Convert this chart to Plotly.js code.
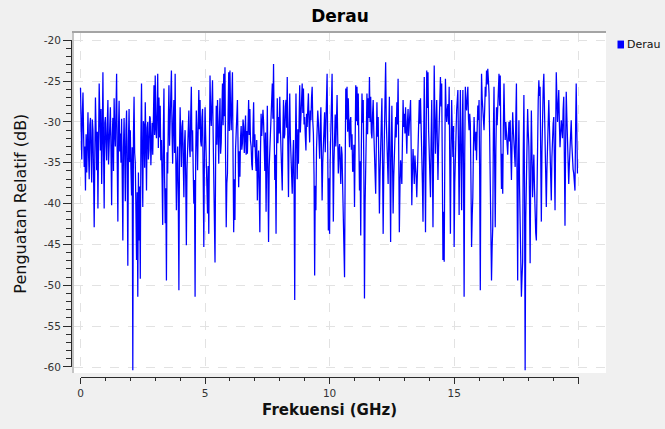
<!DOCTYPE html>
<html>
<head>
<meta charset="utf-8">
<script src="https://cdn.plot.ly/plotly-3.0.1.min.js"></script>
<style>
  html, body { margin: 0; padding: 0; background: #f0f0f0; }
  #chart { width: 665px; height: 429px; }
</style>
</head>
<body>
<div id="chart"></div>
<script>
// ---- data ----
const chartTitle = 'Derau';
const seriesName = 'Derau';
const xTitle = 'Frekuensi (GHz)';
const yTitle = 'Penguatan Relatif (dB)';
const freqStart = 0;       // GHz, first sample
const freqStep = 0.025;    // GHz between samples
const gainDb = [
  -25.8, -30.2, -34.6, -28.9, -26.4, -31.7, -35.5, -33.0, -38.4, -31.5, -36.2, -32.8, -28.8, -34.1, -37.0, -30.4, -29.5, -33.9, -37.4, -29.7, -31.0, -36.5, -42.9, -34.2, -27.0, -30.8, -35.9, -31.2, -40.6, -32.7, -25.3, -29.1, -33.5, -28.4, -37.6, -31.9, -23.9, -33.4, -40.6, -30.1,
  -29.4, -32.6, -34.7, -30.3, -27.3, -35.2, -32.0, -29.0, -28.2, -33.7, -40.2, -31.8, -29.5, -36.0, -27.1, -31.3, -33.0, -28.7, -24.1, -34.8, -42.2, -30.9, -27.4, -33.6, -31.4, -35.0, -29.6, -36.8, -44.5, -33.2, -29.5, -34.1, -39.7, -31.0, -28.6, -35.7, -47.6, -32.4, -28.4, -34.9,
  -31.0, -35.8, -39.0, -33.1, -60.4, -31.7, -26.9, -33.8, -35.0, -40.9, -46.9, -38.6, -51.4, -36.2, -44.5, -37.9, -49.2, -32.0, -25.3, -34.4, -40.4, -29.9, -30.5, -35.6, -27.6, -32.3, -38.4, -30.7, -30.0, -34.6, -33.5, -29.3, -29.5, -35.3, -32.5, -30.1, -34.0, -28.9, -25.5, -31.6,
  -24.3, -30.8, -32.0, -28.5, -24.1, -33.2, -27.0, -31.9, -28.0, -34.7, -32.2, -36.9, -42.6, -31.4, -25.9, -36.6, -42.4, -38.1, -49.4, -33.7, -36.3, -30.2, -25.5, -32.9, -30.5, -27.8, -23.7, -31.3, -35.1, -29.6, -27.3, -33.8, -24.1, -34.4, -40.8, -35.3, -33.0, -38.9, -50.6, -33.4,
  -28.2, -32.1, -35.5, -30.6, -29.8, -34.9, -39.2, -32.7, -31.0, -37.3, -45.1, -35.8, -34.0, -30.3, -28.6, -33.0, -34.3, -29.2, -25.7, -33.6, -31.0, -35.9, -40.0, -37.1, -51.4, -34.2, -28.6, -31.8, -35.9, -30.5, -26.1, -30.9, -27.3, -32.4, -33.0, -29.5, -28.4, -36.4, -45.3, -34.0,
  -28.2, -31.6, -36.0, -38.7, -41.2, -35.4, -43.7, -33.0, -24.3, -29.1, -30.5, -27.6, -24.9, -31.5, -35.9, -40.3, -47.2, -34.6, -28.0, -32.8, -27.3, -31.0, -35.1, -30.0, -27.1, -33.9, -32.5, -28.8, -25.3, -30.4, -24.1, -29.3, -23.3, -34.5, -42.9, -37.5, -36.3, -29.0, -23.9, -31.1,
  -23.7, -28.6, -31.0, -27.2, -23.9, -34.8, -43.5, -37.0, -42.0, -33.3, -30.0, -28.7, -27.3, -32.9, -38.0, -33.6, -36.7, -31.9, -30.5, -33.4, -32.6, -29.7, -30.6, -33.8, -31.8, -29.2, -34.0, -31.1, -33.9, -30.0, -27.3, -31.6, -28.4, -32.3, -33.0, -35.2, -35.9, -30.8, -27.6, -33.1,
  -31.5, -34.3, -36.0, -32.2, -39.6, -35.1, -33.5, -38.3, -43.5, -33.8, -29.0, -31.7, -30.6, -28.5, -30.0, -33.6, -36.0, -31.3, -41.0, -34.5, -28.0, -36.8, -44.7, -35.5, -32.9, -30.1, -29.0, -27.7, -25.3, -29.6, -22.9, -31.2, -37.1, -34.0, -43.7, -32.4, -27.1, -32.6, -29.4, -31.4,
  -26.9, -30.9, -33.0, -35.7, -38.4, -31.1, -27.3, -32.0, -31.5, -28.1, -27.3, -30.7, -24.5, -33.5, -39.2, -30.4, -26.5, -31.9, -34.0, -36.2, -38.8, -34.4, -32.2, -38.5, -51.8, -33.9, -26.5, -32.6, -37.0, -30.9, -35.1, -29.8, -25.5, -31.3, -29.8, -27.5, -25.3, -28.9, -25.9, -30.3,
  -29.4, -31.7, -33.5, -29.0, -30.6, -28.3, -26.5, -30.2, -32.5, -28.6, -29.8, -27.0, -25.7, -29.9, -31.4, -36.4, -48.8, -37.8, -40.8, -33.2, -31.0, -28.6, -30.0, -32.9, -34.5, -30.8, -28.2, -34.1, -39.6, -35.0, -33.5, -30.4, -28.8, -33.7, -31.0, -27.6, -24.1, -33.5, -43.3, -36.9,
  -43.7, -34.6, -31.0, -28.0, -24.1, -33.1, -42.2, -34.9, -31.6, -29.1, -33.0, -30.3, -26.7, -31.8, -36.3, -33.4, -32.7, -35.3, -37.6, -33.0, -34.0, -37.9, -40.8, -44.6, -49.0, -35.6, -25.9, -29.7, -25.7, -31.2, -27.1, -30.5, -33.1, -29.8, -29.4, -33.4, -31.5, -36.1, -35.9, -32.8,
  -40.4, -33.1, -25.5, -29.9, -25.7, -30.4, -26.5, -32.5, -38.4, -34.8, -43.9, -33.0, -26.5, -30.1, -27.3, -35.8, -51.6, -40.1, -35.9, -30.7, -26.5, -31.5, -27.1, -29.5, -24.5, -30.0, -26.9, -31.3, -32.0, -29.1, -27.3, -31.2, -34.0, -36.5, -38.8, -32.9, -27.6, -31.8, -29.4, -35.0,
  -41.2, -36.3, -32.0, -29.6, -27.1, -34.9, -43.7, -36.1, -30.0, -27.3, -22.7, -29.7, -32.2, -34.7, -37.6, -31.4, -26.9, -35.8, -44.7, -33.7, -28.0, -34.3, -41.2, -36.7, -33.0, -30.6, -29.4, -31.9, -27.6, -30.3, -24.7, -33.6, -43.5, -38.0, -34.7, -35.9, -37.6, -32.1, -27.3, -30.6,
  -29.0, -31.4, -28.2, -31.1, -33.9, -30.0, -28.4, -31.7, -30.5, -28.8, -27.3, -33.3, -40.2, -36.0, -33.3, -35.4, -37.6, -34.1, -35.0, -36.8, -39.2, -35.7, -34.3, -31.0, -27.3, -30.2, -27.1, -30.6, -33.0, -37.5, -42.2, -33.2, -24.5, -34.0, -43.5, -32.1, -23.7, -28.3, -23.9, -31.0,
  -35.0, -36.9, -39.2, -32.4, -27.3, -34.6, -42.9, -33.5, -23.1, -29.4, -33.9, -30.1, -27.3, -32.5, -37.1, -33.2, -31.0, -27.8, -24.5, -28.1, -25.3, -35.6, -46.9, -41.0, -47.1, -34.3, -24.7, -28.3, -30.0, -28.5, -27.8, -30.3, -25.7, -35.1, -43.7, -33.6, -27.3, -31.2, -34.3, -30.5,
  -45.3, -37.4, -33.0, -30.2, -28.6, -27.3, -26.1, -33.5, -41.4, -32.0, -26.1, -34.2, -40.8, -31.3, -26.1, -35.8, -51.4, -33.9, -25.7, -27.9, -28.6, -27.0, -25.7, -29.6, -31.0, -29.0, -30.2, -37.4, -45.3, -41.5, -39.2, -33.1, -29.4, -31.8, -33.5, -31.2, -34.7, -30.8, -28.0, -29.8,
  -27.3, -36.8, -50.6, -33.0, -24.1, -27.1, -28.2, -30.0, -31.0, -28.5, -25.7, -26.9, -23.7, -25.4, -23.5, -24.8, -26.5, -31.6, -38.8, -44.0, -49.4, -45.3, -42.9, -31.4, -25.7, -34.7, -42.9, -33.5, -28.2, -30.4, -27.8, -26.0, -24.1, -28.0, -24.3, -32.6, -38.2, -33.9, -38.8, -30.6,
  -25.3, -29.6, -32.2, -30.0, -31.8, -33.6, -34.0, -31.7, -30.0, -32.4, -29.8, -33.8, -37.1, -32.5, -28.8, -30.9, -33.0, -34.9, -35.5, -29.7, -25.3, -37.0, -49.4, -35.1, -29.8, -37.8, -44.5, -48.3, -51.4, -49.0, -47.1, -33.6, -26.7, -38.0, -60.4, -41.8, -35.5, -31.5, -28.4, -31.2,
  -33.0, -39.5, -47.3, -35.4, -28.6, -33.8, -39.2, -36.3, -34.0, -38.1, -42.0, -43.6, -44.5, -35.1, -30.2, -27.4, -24.9, -26.8, -25.7, -34.2, -42.2, -33.6, -27.3, -25.8, -24.1, -27.6, -29.4, -35.2, -40.4, -35.8, -33.0, -30.1, -27.3, -30.5, -33.5, -36.7, -39.6, -34.3, -31.0, -30.2,
  -29.4, -34.9, -40.8, -31.2, -23.9, -27.2, -30.0, -28.1, -26.1, -30.3, -33.1, -31.4, -29.8, -30.9, -32.0, -28.5, -26.9, -34.5, -42.7, -33.0, -26.3, -29.4, -32.0, -34.8, -37.6, -35.2, -33.9, -31.6, -29.8, -32.7, -35.0, -35.8, -36.3, -37.4, -38.4, -30.9, -25.3, -31.0, -36.3
];
const xTickVals = [0, 5, 10, 15, 20];
const xTickText = ['0', '5', '10', '15', ''];
const yTickVals = [-20, -25, -30, -35, -40, -45, -50, -55, -60];
const yTickText = ['-20', '-25', '-30', '-35', '-40', '-45', '-50', '-55', '-60'];
const xAxisRange = [0, 20];
const yAxisRange = [-60, -20];

// ---- styling ----
const blue = '#0000ff';
const axisInk = '#2b2b2b';
const tickFont = { family: 'DejaVu Sans, sans-serif', size: 10.5, color: '#333333' };

const traces = [
  {
    type: 'scatter', mode: 'lines', name: seriesName,
    x0: freqStart, dx: freqStep, y: gainDb,
    xaxis: 'x', yaxis: 'y',
    line: { color: blue, width: 1.25 },
    showlegend: false, hoverinfo: 'skip'
  },
  { // same data on the labelled axes, invisible, so those axes get drawn
    type: 'scatter', mode: 'lines', name: seriesName,
    x0: freqStart, dx: freqStep, y: gainDb,
    xaxis: 'x2', yaxis: 'y2',
    line: { color: blue, width: 0 }, opacity: 0,
    showlegend: false, hoverinfo: 'skip'
  }
];

const gridStyle = { showgrid: true, gridcolor: '#e2e2e2', griddash: 'dash', gridwidth: 1 };

const layout = {
  width: 665, height: 429,
  margin: { l: 71, r: 59, t: 33, b: 52 },
  paper_bgcolor: '#f0f0f0',
  plot_bgcolor: 'rgba(0,0,0,0)',
  showlegend: false,
  title: {
    text: chartTitle, x: 0.5113, xanchor: 'center', y: 0.962, yanchor: 'middle',
    font: { family: 'DejaVu Sans, sans-serif', size: 17, color: '#000000', weight: 'bold' }
  },
  // plotting frame (grid, top/left border)
  xaxis: Object.assign({
    domain: [0.0056, 1], range: [-0.261, 21.096], tick0: 0, dtick: 5,
    showticklabels: false, ticks: '', zeroline: false,
    side: 'top', showline: true, linecolor: '#a4a4a4', linewidth: 2, anchor: 'y'
  }, gridStyle),
  yaxis: Object.assign({
    domain: [0.01163, 1], range: [-60.735, -19.106], tick0: -20, dtick: 5,
    showticklabels: false, ticks: '', zeroline: false,
    showline: true, linecolor: '#c4c4c4', linewidth: 2, anchor: 'x'
  }, gridStyle),
  // labelled axes, set apart from the frame
  xaxis2: {
    domain: [0.01776, 0.94897], range: xAxisRange, anchor: 'free', position: 0,
    tickmode: 'array', tickvals: xTickVals, ticktext: xTickText,
    ticks: 'outside', ticklen: 6, tickwidth: 1, tickcolor: axisInk,
    minor: { tickmode: 'linear', tick0: 0, dtick: 1, ticks: 'outside', ticklen: 3, tickcolor: axisInk, showgrid: false },
    showline: true, linecolor: axisInk, linewidth: 1,
    showgrid: false, zeroline: false, tickfont: tickFont,
    title: { text: xTitle, standoff: 6,
      font: { family: 'DejaVu Sans, sans-serif', size: 15, color: '#111111', weight: 'bold' } }
  },
  yaxis2: {
    domain: [0.02907, 0.97878], range: yAxisRange, anchor: 'free', position: 0,
    tickmode: 'array', tickvals: yTickVals, ticktext: yTickText,
    ticks: 'outside', ticklen: 8, tickwidth: 1, tickcolor: axisInk,
    minor: { tickmode: 'linear', tick0: -20, dtick: 1, ticks: 'outside', ticklen: 5, tickcolor: axisInk, showgrid: false },
    showline: true, linecolor: axisInk, linewidth: 1,
    showgrid: false, zeroline: false, tickfont: tickFont,
    title: { text: yTitle, standoff: 12,
      font: { family: 'DejaVu Sans, sans-serif', size: 16, color: '#111111' } }
  },
  shapes: [
    { type: 'rect', xref: 'x domain', yref: 'y domain', x0: 0, x1: 1, y0: 0, y1: 1,
      fillcolor: '#ffffff', line: { width: 0 }, layer: 'below' },
    // legend swatch
    { type: 'rect', xref: 'paper', yref: 'paper', x0: 1.0215, x1: 1.0336, y0: 0.955, y1: 0.978,
      fillcolor: blue, line: { width: 0 } }
  ],
  annotations: [
    { text: seriesName, xref: 'paper', yref: 'paper', x: 1.0355, y: 0.9665,
      xanchor: 'left', yanchor: 'middle', showarrow: false,
      font: { family: 'DejaVu Sans, sans-serif', size: 11, color: '#111111' } }
  ]
};

Plotly.newPlot('chart', traces, layout, { displayModeBar: false, staticPlot: true });
</script>
</body>
</html>
